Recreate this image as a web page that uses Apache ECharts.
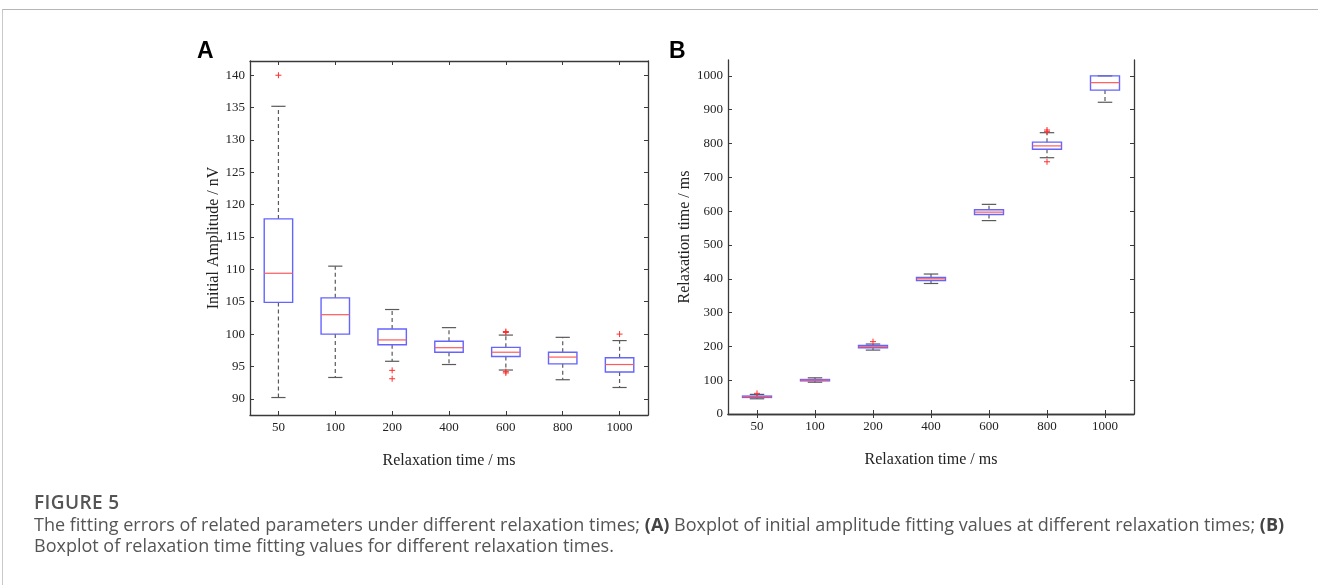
<!DOCTYPE html>
<html>
<head>
<meta charset="utf-8">
<script src="https://cdn.jsdelivr.net/npm/echarts@6/dist/echarts.min.js"></script>
<style>
  html, body { margin:0; padding:0; background:#fff; }
  #wrap { position:relative; width:1318px; height:585px; overflow:hidden; }
  #frame { position:absolute; left:2px; top:9px; width:1330px; height:600px; border-top:1px solid #b5b5b5; border-left:1px solid #c8c8c8; }
  #chart { position:absolute; left:0; top:0; width:1318px; height:585px; }
  #cap { position:absolute; left:34px; top:490px; font-family:"Open Sans", "Noto Sans", sans-serif; color:#555; }
  #cap .fig { font-size:19px; font-weight:600; letter-spacing:0.4px; color:#555; line-height:24px; }
  #cap .txt { font-size:18px; line-height:21px; color:#555; white-space:nowrap; letter-spacing:0; margin-top:0px; }
  #cap b { font-weight:700; color:#444; }
</style>
</head>
<body>
<div id="wrap">
  <div id="frame"></div>
  <div id="chart"></div>
  <div id="cap">
    <div class="fig">FIGURE 5</div>
    <div class="txt">The fitting errors of related parameters under different relaxation times; <b>(A)</b> Boxplot of initial amplitude fitting values at different relaxation times; <b>(B)</b><br>Boxplot of relaxation time fitting values for different relaxation times.</div>
  </div>
</div>
<script>
// ---- data ----
const categories = ['50', '100', '200', '400', '600', '800', '1000'];
// [low whisker, Q1, median, Q3, high whisker]
const ampBoxes = [
  [90.2, 104.9, 109.4, 117.8, 135.2],
  [93.3, 100.0, 103.0, 105.6, 110.5],
  [95.8, 98.35, 99.1, 100.8, 103.8],
  [95.3, 97.2, 97.9, 98.9, 101.0],
  [94.45, 96.55, 97.2, 97.95, 99.85],
  [92.95, 95.4, 96.45, 97.2, 99.5],
  [91.75, 94.15, 95.3, 96.35, 99.0]
];
const ampOutliers = [[0, 140.0], [2, 94.4], [2, 93.1], [4, 100.4], [4, 100.25], [4, 94.2], [4, 94.0], [6, 100.0]];
const relBoxes = [
  [45, 49, 51, 53, 58],
  [94, 98, 100, 102, 107],
  [189, 196, 199, 203, 207],
  [386, 395, 400, 404, 414],
  [572, 590, 597, 604, 620],
  [758, 783, 793, 804, 832],
  [922, 958, 980, 1000, 1000]
];
const relOutliers = [[0, 61], [2, 214], [5, 840], [5, 835], [5, 746]];
const ampTicks = [90, 95, 100, 105, 110, 115, 120, 125, 130, 135, 140];
const relTicks = [0, 100, 200, 300, 400, 500, 600, 700, 800, 900, 1000];

// ---- styles ----
const serif = 'Liberation Serif';
const axisColor = '#3a3a3a';
const boxColor = '#6464ff';
const medColor = '#ff5a5a';
const whiskColor = '#5a5a5a';

function renderBox(params, api) {
  const i = api.value(0);
  const pLow = api.coord([i, api.value(1)]);
  const pQ1 = api.coord([i, api.value(2)]);
  const pMed = api.coord([i, api.value(3)]);
  const pQ3 = api.coord([i, api.value(4)]);
  const pHigh = api.coord([i, api.value(5)]);
  const band = api.size([1, 0])[0];
  const bw = band * 0.5, cw = band * 0.25;
  const x = pMed[0];
  const dash = { stroke: whiskColor, lineWidth: 1.2, lineDash: [4, 3] };
  const solid = { stroke: whiskColor, lineWidth: 1.2 };
  return {
    type: 'group',
    children: [
      { type: 'line', shape: { x1: x, y1: pQ3[1], x2: x, y2: pHigh[1] }, style: dash },
      { type: 'line', shape: { x1: x, y1: pQ1[1], x2: x, y2: pLow[1] }, style: dash },
      { type: 'line', shape: { x1: x - cw / 2, y1: pHigh[1], x2: x + cw / 2, y2: pHigh[1] }, style: solid },
      { type: 'line', shape: { x1: x - cw / 2, y1: pLow[1], x2: x + cw / 2, y2: pLow[1] }, style: solid },
      { type: 'rect', shape: { x: x - bw / 2, y: pQ3[1], width: bw, height: pQ1[1] - pQ3[1] },
        style: { fill: 'none', stroke: boxColor, lineWidth: 1.4 } },
      { type: 'line', shape: { x1: x - bw / 2, y1: pMed[1], x2: x + bw / 2, y2: pMed[1] },
        style: { stroke: medColor, lineWidth: 1.2 } }
    ]
  };
}
function renderPlus(params, api) {
  const p = api.coord([api.value(0), api.value(1)]);
  const s = 3;
  const st = { stroke: '#ff3030', lineWidth: 1 };
  return {
    type: 'group',
    children: [
      { type: 'line', shape: { x1: p[0] - s, y1: p[1], x2: p[0] + s, y2: p[1] }, style: st },
      { type: 'line', shape: { x1: p[0], y1: p[1] - s, x2: p[0], y2: p[1] + s }, style: st }
    ]
  };
}

const tickLabel = { fontFamily: serif, fontSize: 13, color: '#222' };
function xAx(grid, pos, showLabel, name) {
  return {
    type: 'category', data: categories, gridIndex: grid, position: pos,
    boundaryGap: true,
    axisLine: { show: true, lineStyle: { color: axisColor, width: 1.3 } },
    axisTick: { show: true, inside: true, alignWithLabel: true, length: 4, lineStyle: { color: axisColor } },
    axisLabel: Object.assign({ show: showLabel, margin: 6 }, tickLabel),
    splitLine: { show: false },
    name: name || '', nameLocation: 'middle', nameGap: 38,
    nameTextStyle: { fontFamily: serif, fontSize: 16, color: '#222' }
  };
}
function yAx(grid, pos, showLabel, min, max, ticks, name, gap) {
  return {
    type: 'value', gridIndex: grid, position: pos, min: min, max: max,
    axisLine: { show: true, lineStyle: { color: axisColor, width: 1.3 } },
    axisTick: { show: true, inside: true, length: 4, customValues: ticks, lineStyle: { color: axisColor } },
    axisLabel: Object.assign({ show: showLabel, margin: 5, customValues: ticks,
      formatter: function (v) { return String(v); } }, tickLabel),
    splitLine: { show: false },
    name: name || '', nameLocation: 'middle', nameGap: gap || 30,
    nameTextStyle: { fontFamily: serif, fontSize: 16, color: '#222' }
  };
}

const chart = echarts.init(document.getElementById('chart'), null, { renderer: 'canvas' });
chart.setOption({
  animation: false,
  backgroundColor: 'transparent',
  grid: [
    { left: 250, top: 61, width: 398, height: 354, outerBoundsMode: 'none', containLabel: false },
    { left: 728, top: 60, width: 406, height: 354, outerBoundsMode: 'none', containLabel: false }
  ],
  xAxis: [
    xAx(0, 'bottom', true, 'Relaxation time / ms'),
    xAx(0, 'top', false),
    xAx(1, 'bottom', true, 'Relaxation time / ms'),
    xAx(1, 'top', false)
  ],
  yAxis: [
    yAx(0, 'left', true, 87.5, 142.2, ampTicks, 'Initial Amplitude / nV', 26),
    yAx(0, 'right', false, 87.5, 142.2, ampTicks),
    yAx(1, 'left', true, 0, 1047, relTicks, 'Relaxation time / ms', 31),
    yAx(1, 'right', false, 0, 1047, relTicks)
  ],
  graphic: [
    { type: 'text', left: 197, top: 40, style: { text: 'A', font: 'bold 23px "Liberation Sans", Arial', fill: '#000' } },
    { type: 'text', left: 669, top: 40, style: { text: 'B', font: 'bold 23px "Liberation Sans", Arial', fill: '#000' } }
  ],
  series: [
    { type: 'custom', xAxisIndex: 0, yAxisIndex: 0, renderItem: renderBox,
      encode: { x: 0, y: [1, 2, 3, 4, 5] }, data: ampBoxes.map((b, i) => [i].concat(b)) },
    { type: 'custom', xAxisIndex: 0, yAxisIndex: 0, renderItem: renderPlus,
      encode: { x: 0, y: 1 }, data: ampOutliers },
    { type: 'custom', xAxisIndex: 2, yAxisIndex: 2, renderItem: renderBox,
      encode: { x: 0, y: [1, 2, 3, 4, 5] }, data: relBoxes.map((b, i) => [i].concat(b)) },
    { type: 'custom', xAxisIndex: 2, yAxisIndex: 2, renderItem: renderPlus,
      encode: { x: 0, y: 1 }, data: relOutliers }
  ]
});
</script>
</body>
</html>
